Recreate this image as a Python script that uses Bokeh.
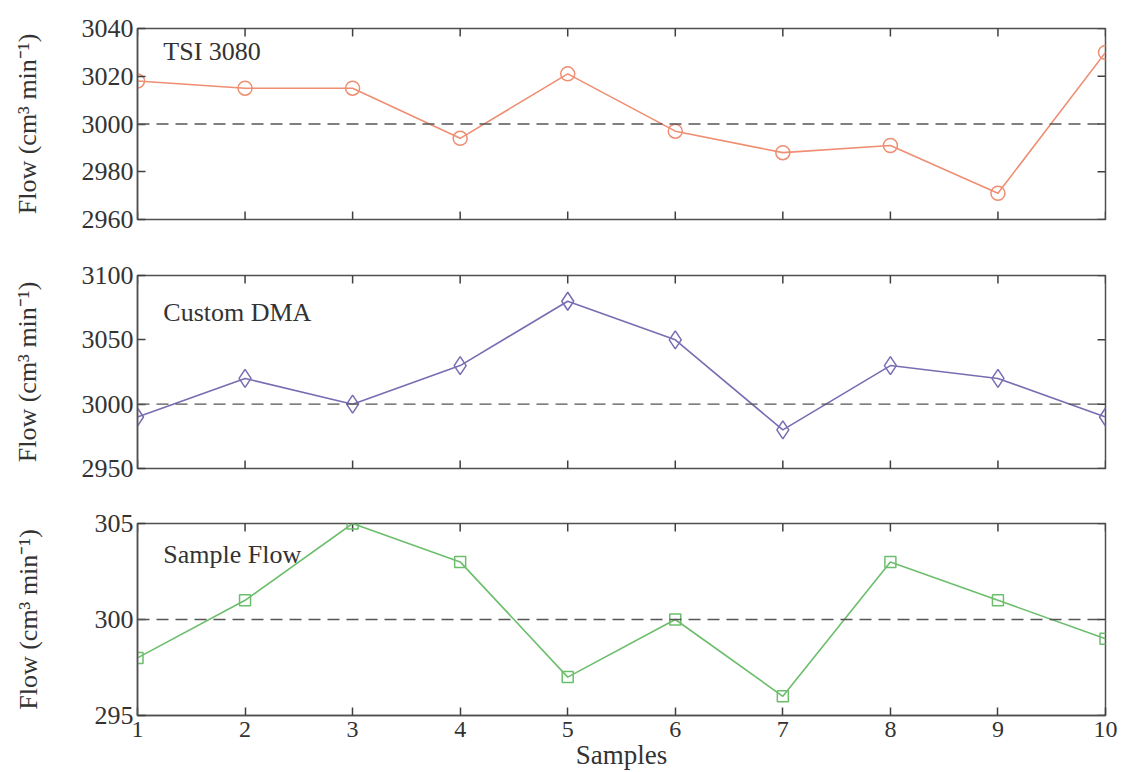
import math
from bokeh.plotting import figure
from bokeh.layouts import column
from bokeh.models import LinearAxis, Span, Label, FixedTicker, Range1d
from bokeh.embed import file_html
from bokeh.resources import INLINE

samples = [1, 2, 3, 4, 5, 6, 7, 8, 9, 10]
tsi_3080 = [3018, 3015, 3015, 2994, 3021, 2997, 2988, 2991, 2971, 3030]
custom_dma = [2990, 3020, 3000, 3030, 3080, 3050, 2980, 3030, 3020, 2990]
sample_flow = [298, 301, 305, 303, 297, 300, 296, 303, 301, 299]

tsi_ticks = [2960, 2980, 3000, 3020, 3040]
dma_ticks = [2950, 3000, 3050, 3100]
sf_ticks = [295, 300, 305]

FONT = "Liberation Serif"
AXC = "#505050"
TXT = "#333333"
YLABEL = "Flow (cm\u00b3 min\u207b\u00b9)"


def inner_ticks(p, xs, ys, angle):
    # a "dash" marker centred on the frame edge: the outer half is clipped,
    # leaving an inward-pointing tick mark
    p.scatter(xs, ys, marker="dash", size=16, angle=angle,
              line_color="#404040", line_width=1.5)


def make_panel(values, ref, yr, yticks, color, marker, msize, name, name_y,
               height, btop, bbottom, show_x, ylabel_standoff):
    p = figure(width=1121, height=height, output_backend="svg",
               toolbar_location=None, x_range=Range1d(samples[0], samples[-1]),
               y_range=Range1d(*yr), min_border_left=137, min_border_right=16,
               min_border_top=btop, min_border_bottom=bbottom,
               x_axis_location=None, y_axis_location=None)
    p.grid.visible = False
    p.outline_line_color = AXC
    p.outline_line_width = 1.5
    p.background_fill_color = "white"
    p.border_fill_color = "white"

    # left y axis (real axis with labels)
    yl = LinearAxis(ticker=FixedTicker(ticks=yticks))
    yl.axis_line_color = AXC
    yl.axis_line_width = 1.5
    yl.major_tick_in = 8
    yl.major_tick_out = 0
    yl.major_tick_line_color = "#404040"
    yl.major_tick_line_width = 1.5
    yl.minor_tick_line_color = None
    yl.major_label_text_font = FONT
    yl.major_label_text_color = TXT
    yl.major_label_text_font_size = "26px"
    yl.major_label_standoff = 4
    yl.axis_label = YLABEL
    yl.axis_label_text_font = FONT
    yl.axis_label_text_font_style = "normal"
    yl.axis_label_text_color = TXT
    yl.axis_label_text_font_size = "26px"
    yl.axis_label_standoff = ylabel_standoff
    p.add_layout(yl, "left")

    n = len(samples)
    if show_x:
        xb = LinearAxis(ticker=FixedTicker(ticks=samples))
        xb.axis_line_color = AXC
        xb.axis_line_width = 1.5
        xb.major_tick_in = 8
        xb.major_tick_out = 0
        xb.major_tick_line_color = "#404040"
        xb.major_tick_line_width = 1.5
        xb.minor_tick_line_color = None
        xb.major_label_text_font = FONT
        xb.major_label_text_color = TXT
        xb.major_label_text_font_size = "24px"
        xb.major_label_standoff = 6
        xb.axis_label = "Samples"
        xb.axis_label_text_font = FONT
        xb.axis_label_text_font_style = "normal"
        xb.axis_label_text_color = TXT
        xb.axis_label_text_font_size = "27px"
        xb.axis_label_standoff = 0
        p.add_layout(xb, "below")
    else:
        inner_ticks(p, samples, [yr[0]] * n, math.pi / 2)
    # top and right tick marks
    inner_ticks(p, samples, [yr[1]] * n, math.pi / 2)
    inner_ticks(p, [samples[-1]] * len(yticks), yticks, 0)

    p.add_layout(Span(location=ref, dimension="width", line_color="#555555",
                      line_width=1.3, line_dash="12 7"))

    p.line(samples, values, line_color=color, line_width=1.6)
    p.scatter(samples, values, marker=marker, size=msize, fill_color=None,
              line_color=color, line_width=1.5)

    p.add_layout(Label(x=1.24, y=name_y, text=name, text_font=FONT,
                       text_font_size="26px", text_color=TXT,
                       text_baseline="middle"))
    return p


p1 = make_panel(tsi_3080, 3000, (2960, 3040), tsi_ticks, "#EE8E72", "circle",
                14, "TSI 3080", 3030.4, 250, 28, 31, False, 37)
p2 = make_panel(custom_dma, 3000, (2950, 3100), dma_ticks, "#7A6CB2", "diamond",
                18, "Custom DMA", 3071, 250, 25, 32, False, 37)
p3 = make_panel(sample_flow, 300, (295, 305), sf_ticks, "#6CBE6C", "square",
                11, "Sample Flow", 303.4, 272, 23, 57, True, 49)

layout = column(p1, p2, p3, spacing=0)
open("out.html", "w").write(file_html(layout, INLINE))
